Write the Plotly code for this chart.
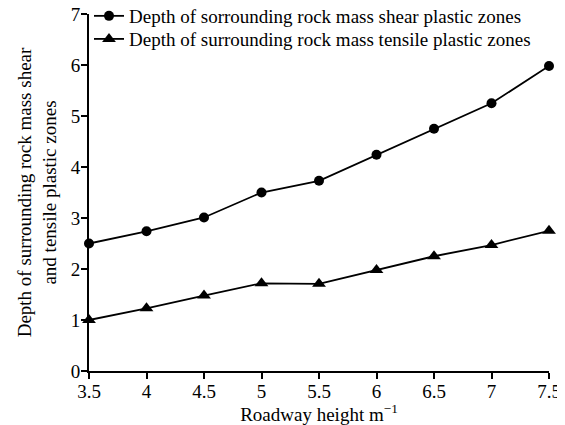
import plotly.graph_objects as go

heights = [3.5, 4, 4.5, 5, 5.5, 6, 6.5, 7, 7.5]
shear_depth = [2.5, 2.74, 3.01, 3.5, 3.73, 4.24, 4.75, 5.25, 5.98]
tensile_depth = [1.0, 1.23, 1.48, 1.72, 1.71, 1.98, 2.25, 2.47, 2.75]
x_ticks = [3.5, 4, 4.5, 5, 5.5, 6, 6.5, 7, 7.5]
x_tick_labels = ["3.5", "4", "4.5", "5", "5.5", "6", "6.5", "7", "7.5"]
y_ticks = [0, 1, 2, 3, 4, 5, 6, 7]

font_family = "Liberation Serif, Times New Roman, serif"

fig = go.Figure()
fig.add_trace(go.Scatter(
    x=heights, y=shear_depth, mode="lines+markers",
    name="Depth of sorrounding rock mass shear plastic zones",
    line=dict(color="black", width=1.8),
    marker=dict(symbol="circle", size=10, color="black"),
    cliponaxis=False, legend="legend",
))
fig.add_trace(go.Scatter(
    x=heights, y=tensile_depth, mode="lines+markers",
    name="Depth of surrounding rock mass tensile plastic zones",
    line=dict(color="black", width=1.8),
    marker=dict(symbol="triangle-up", size=12, color="black"),
    cliponaxis=False, legend="legend2",
))

legend_common = dict(xanchor="left", yanchor="top", bgcolor="rgba(0,0,0,0)",
                     font=dict(size=19), itemwidth=30)

fig.update_layout(
    width=557, height=417,
    margin=dict(l=81, r=16, t=6, b=54, autoexpand=False),
    paper_bgcolor="white", plot_bgcolor="white",
    font=dict(family=font_family, size=19, color="black"),
    showlegend=True,
    legend=dict(x=0.0, y=1.0476, **legend_common),
    legend2=dict(x=0.0, y=0.983, **legend_common),
    xaxis=dict(
        range=[3.5, 7.5], tickvals=x_ticks, ticktext=x_tick_labels,
        showgrid=False, zeroline=False, showline=True, linecolor="black", linewidth=2,
        ticks="outside", ticklen=6, tickwidth=2, tickcolor="black",
        title=dict(text="Roadway height m<sup>−1</sup>", standoff=2, font=dict(size=19)),
        tickfont=dict(size=19), automargin=False, ticklabelstandoff=-4,
        ticklabeloverflow="allow",
    ),
    yaxis=dict(
        range=[0, 7], tickvals=y_ticks,
        showgrid=False, zeroline=False, showline=True, linecolor="black", linewidth=2,
        ticks="outside", ticklen=6, tickwidth=2, tickcolor="black",
        title=dict(text="Depth of surrounding rock mass shear<br>and tensile plastic zones",
                   standoff=9, font=dict(size=19)),
        tickfont=dict(size=19), automargin=False, ticklabelstandoff=-3,
        ticklabeloverflow="allow",
    ),
)

fig.write_html("out.html")
